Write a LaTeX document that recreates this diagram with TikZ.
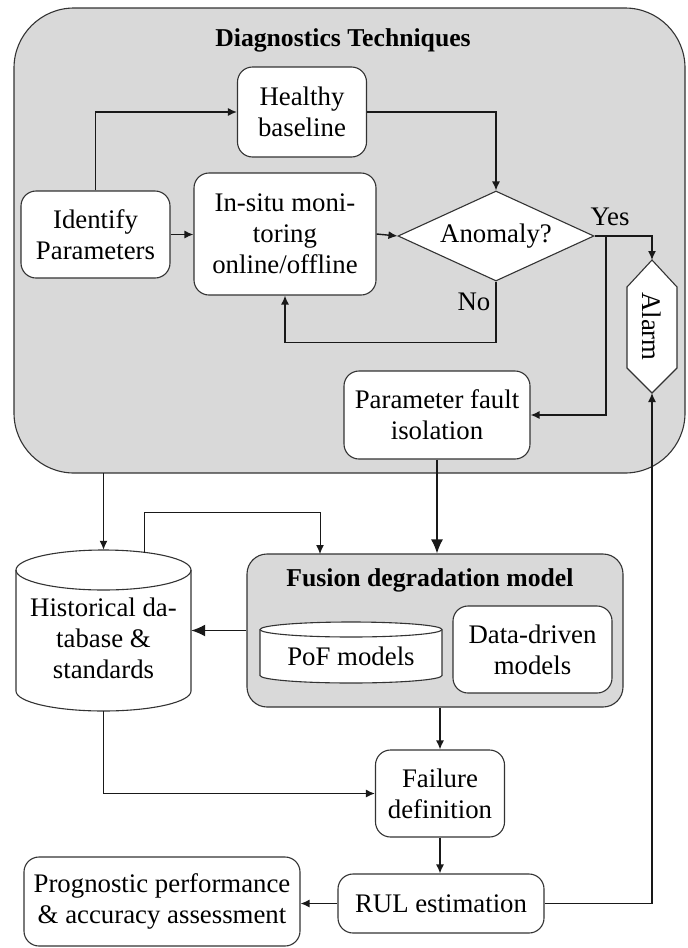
\documentclass[tikz,border=0pt]{standalone}
\usepackage{fontspec}
\setmainfont{Liberation Serif}
\usetikzlibrary{arrows.meta,shapes.geometric,calc}
\begin{document}
\begin{tikzpicture}[x=1pt,y=-1pt,
  every node/.style={font=\fontsize{26.8}{31}\selectfont, align=center, inner sep=0pt},
  box/.style={draw=black!80, fill=white, line width=1.1pt, rounded corners=15pt},
  graybox/.style={draw=black!80, fill=gray!30, line width=1.1pt},
  shapeline/.style={draw=black!80, fill=white, line width=1.1pt},
  arr/.style={draw=black!90, line width=1.4pt, -{Latex[length=9pt,width=8pt]}},
  thinarr/.style={draw=black!90, line width=1pt, -{Latex[length=9pt,width=8pt]}},
  bigarr/.style={draw=black!90, line width=1.4pt, -{Latex[length=14pt,width=12pt]}},
  title/.style={font=\fontsize{25.7}{30}\selectfont\bfseries}]
\useasboundingbox (0,0) rectangle (688,948);

% Diagnostics frame
\node[graybox, rounded corners=60pt, minimum width=671pt, minimum height=465pt] (diag) at (349.5,240.5) {};
\node[title] (diagtitle) at (343,40) {Diagnostics Techniques};

\node[box, minimum width=129pt, minimum height=90pt] (healthy) at (302,112) {Healthy\\baseline};
\node[box, minimum width=149pt, minimum height=87pt] (identify) at (95.5,234.5) {Identify\\Parameters};
\node[box, minimum width=182pt, minimum height=122pt] (insitu) at (285,234) {In-situ moni-\\toring\\online/offline};
\node[shapeline, diamond, minimum width=196pt, minimum height=90pt, aspect=2.18] (anom) at (496,236) {Anomaly?};
\node (yes) at (610,217) {Yes};
\node (no) at (474,302) {No};

% Alarm
\coordinate (alarmN) at (652,260);
\coordinate (alarmS) at (652,393);
\draw[shapeline] (alarmN) -- (677,287) -- (677,368) -- (alarmS) -- (627,368) -- (627,287) -- cycle;
\node[rotate=-90] (alarm) at (652,326.5) {Alarm};

\node[box, minimum width=186pt, minimum height=88pt] (pfi) at (437,415) {Parameter fault\\isolation};

% Historical database cylinder
\draw[shapeline] (16,570) -- (16,691) arc[start angle=180, end angle=360, x radius=87.5pt, y radius=20pt]
  -- (191,570) arc[start angle=0, end angle=180, x radius=87.5pt, y radius=20pt] -- cycle;
\draw[draw=black!80, line width=1.1pt] (16,570) arc[start angle=180, end angle=360, x radius=87.5pt, y radius=20pt];
\node[minimum width=175pt, minimum height=161pt] (hist) at (103.5,630.5) {};
\node (histtext) at (103.5,638) {Historical da-\\tabase \&\\standards};

% Fusion degradation model
\node[graybox, rounded corners=20pt, minimum width=376pt, minimum height=153pt] (fusion) at (435,630.5) {};
\node[title] (fusiontitle) at (430,580) {Fusion degradation model};
\draw[shapeline] (260,629.5) -- (260,675.5) arc[start angle=180, end angle=360, x radius=91pt, y radius=7.5pt]
  -- (442,629.5) arc[start angle=0, end angle=180, x radius=91pt, y radius=7.5pt] -- cycle;
\draw[draw=black!80, line width=1.1pt] (260,629.5) arc[start angle=180, end angle=360, x radius=91pt, y radius=7.5pt];
\node (pof) at (351,656) {PoF models};
\node[box, minimum width=159pt, minimum height=87pt] (ddm) at (532.5,649.5) {Data-driven\\models};

\node[box, minimum width=129pt, minimum height=87pt] (failure) at (440,793.5) {Failure\\definition};
\node[box, minimum width=206pt, minimum height=59pt] (rul) at (441,903.5) {RUL estimation};
\node[box, minimum width=276pt, minimum height=89pt] (prog) at (162,901.5) {Prognostic performance\\\& accuracy assessment};

% connectors
\draw[arr] (identify.north) |- (healthy.west);
\draw[arr] (healthy.east) -| (anom.north);
\draw[arr] (identify.east) -- (identify.east -| insitu.west);
\draw[arr] (insitu.east) -- (anom.west);
\draw[arr] (anom.south) -- ++(0,61) -| (insitu.south);
\draw[arr] (anom.east) -| (alarmN);
\coordinate (ybranch) at (606,236);
\draw[arr] (ybranch) |- (pfi.east);
\draw[bigarr] (pfi.south) -- (pfi.south |- fusion.north);
\coordinate (diagtap) at (103.5,473);
\draw[arr] (diagtap) -- (hist.north);
\coordinate (histtap) at (144,553);
\coordinate (fusiontap) at (320,554);
\draw[thinarr] (histtap) -- ++(0,-41) -| (fusiontap);
\draw[bigarr] (fusion.west) -- (fusion.west -| hist.east);
\draw[arr] (failure.north |- fusion.south) -- (failure.north);
\draw[arr] (hist.south) |- (failure.west);
\draw[arr] (failure.south) -- (failure.south |- rul.north);
\draw[arr] (rul.west) -- (rul.west -| prog.east);
\draw[arr] (rul.east) -| (alarmS);
\end{tikzpicture}
\end{document}
